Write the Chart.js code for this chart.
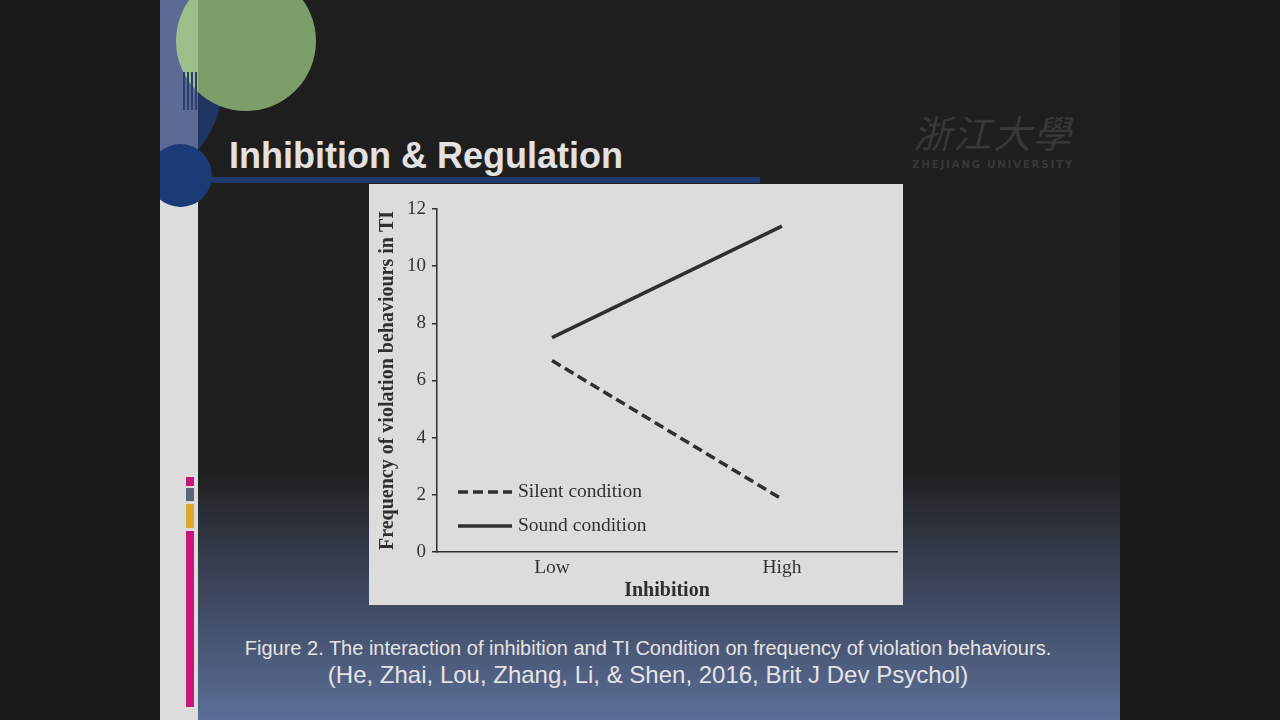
<!DOCTYPE html>
<html lang="en">
<head>
    <meta charset="UTF-8">
    <title>Inhibition &amp; Regulation</title>
    <script src="https://cdn.jsdelivr.net/npm/chart.js"></script>
    <style>
        html, body { margin: 0; padding: 0; width: 1280px; height: 720px; overflow: hidden; background: #191919; }
        .slide { position: absolute; left: 160px; top: 0; width: 960px; height: 720px; overflow: hidden;
                 background: linear-gradient(to bottom, #1e1e1e 0px, #1f1f1f 470px, #3a4357 580px, #5b6e97 720px); }
        .strip { position: absolute; left: 0; top: 0; width: 38px; height: 720px; background: #dcdcdc; overflow: hidden; }
        .circle { position: absolute; border-radius: 50%; }
        .title { position: absolute; left: 69px; top: 135px; font: bold 36px "Liberation Sans", Arial, sans-serif; color: #e2e2e2; }
        .rule { position: absolute; left: 40px; top: 177px; width: 560px; height: 6px; background: #1f3a6e; }
        .bar { position: absolute; left: 26px; width: 8px; }
        .logo { position: absolute; left: 748px; top: 108px; width: 170px; text-align: center; color: #383838; white-space: nowrap; }
        .logo .cn { font: italic 38px "Noto Sans CJK TC", sans-serif; letter-spacing: 2px; line-height: 48px; }
        .logo .en { font: bold 10.5px "DejaVu Sans", sans-serif; letter-spacing: 1.6px; margin-top: 2px; }
        .figure { position: absolute; left: 209px; top: 184px; width: 534px; height: 421px; background: #dcdcdc; }
        .caption { position: absolute; left: 0; width: 976px; text-align: center; color: #e4e4e4; font-family: "Liberation Sans", Arial, sans-serif; white-space: nowrap; }
    </style>
</head>
<body>
    <div class="slide">
        <!-- big navy arc behind the strip -->
        <div class="circle" style="left:-70px; top:-30px; width:135px; height:200px; background:#1e3461;"></div>
        <div class="strip">
            <div class="circle" style="left:-70px; top:-30px; width:135px; height:200px; background:#5b6b95;"></div>
            <div class="circle" style="left:16px; top:-29px; width:140px; height:140px; background:#9dbf8c;"></div>
            <div style="position:absolute; left:23px; top:72px; width:2px; height:38px; background:#2a3f70;"></div>
            <div style="position:absolute; left:27px; top:72px; width:2px; height:38px; background:#2a3f70;"></div>
            <div style="position:absolute; left:31px; top:72px; width:2px; height:38px; background:#2a3f70;"></div>
            <div style="position:absolute; left:35px; top:72px; width:2px; height:38px; background:#2a3f70;"></div>
            <div class="circle" style="left:-11px; top:144px; width:63px; height:63px; background:#1d3a78;"></div>
        </div>
        <div class="circle" style="left:16px; top:-29px; width:140px; height:140px; background:#7d9e68; clip-path: inset(0 0 0 22px);"></div>
        <div class="circle" style="left:-11px; top:144px; width:63px; height:63px; background:#1d3a78; clip-path: inset(0 0 0 49px);"></div>
        <div class="rule"></div>
        <div class="title">Inhibition &amp; Regulation</div>

        <div class="bar" style="top:477px; height:9px; background:#c8157a;"></div>
        <div class="bar" style="top:488px; height:13px; background:#5e6577;"></div>
        <div class="bar" style="top:504px; height:24px; background:#dcaa2a;"></div>
        <div class="bar" style="top:531px; height:176px; background:#c8157a;"></div>

        <div class="logo">
            <div class="cn">浙江大學</div>
            <div class="en">ZHEJIANG UNIVERSITY</div>
        </div>

        <div class="figure"><canvas id="chart" width="534" height="421"></canvas></div>

        <div class="caption" style="top:637px; font-size:20px;">Figure 2. The interaction of inhibition and TI Condition on frequency of violation behaviours.</div>
        <div class="caption" style="top:661px; font-size:24px;">(He, Zhai, Lou, Zhang, Li, &amp; Shen, 2016, Brit J Dev Psychol)</div>
    </div>

    <script>
        // values
        const categories = ['Low', 'High'];
        const silentValues = [6.7, 1.85];
        const soundValues = [7.5, 11.4];
        const yTicks = [0, 2, 4, 6, 8, 10, 12];
        const seriesNames = ['Silent condition', 'Sound condition'];

        const ink = '#2f2f2f';
        const serif = '"Liberation Serif", "Times New Roman", serif';

        // legend sits inside the plot, bottom-left
        const insideLegend = {
            id: 'insideLegend',
            afterDatasetsDraw(chart) {
                const {ctx, chartArea} = chart;
                const rows = [chartArea.bottom - 60, chartArea.bottom - 26];
                ctx.save();
                chart.data.datasets.forEach((ds, i) => {
                    const y = rows[i];
                    ctx.strokeStyle = ds.borderColor;
                    ctx.lineWidth = ds.borderWidth;
                    ctx.setLineDash(ds.borderDash || []);
                    ctx.beginPath();
                    ctx.moveTo(chartArea.left + 21, y);
                    ctx.lineTo(chartArea.left + 75, y);
                    ctx.stroke();
                    ctx.setLineDash([]);
                    ctx.fillStyle = ink;
                    ctx.font = '19.5px ' + serif;
                    ctx.textBaseline = 'middle';
                    ctx.fillText(ds.label, chartArea.left + 81, y);
                });
                ctx.restore();
            }
        };

        new Chart(document.getElementById('chart'), {
            type: 'line',
            data: {
                labels: categories,
                datasets: [{
                    label: seriesNames[0],
                    data: silentValues,
                    borderColor: ink,
                    borderWidth: 3.5,
                    borderDash: [10, 5],
                    pointRadius: 0,
                    fill: false
                }, {
                    label: seriesNames[1],
                    data: soundValues,
                    borderColor: ink,
                    borderWidth: 3.5,
                    pointRadius: 0,
                    fill: false
                }]
            },
            options: {
                responsive: false,
                animation: false,
                layout: { padding: { top: 25, right: 6, bottom: 0, left: 0 } },
                plugins: {
                    legend: { display: false },
                    tooltip: { enabled: false }
                },
                scales: {
                    x: {
                        offset: true,
                        grid: { display: false, drawTicks: false },
                        border: { display: true, color: ink, width: 1.5 },
                        ticks: { color: '#333', font: { family: serif, size: 19.5 }, padding: 4 },
                        title: { display: true, text: 'Inhibition', color: ink,
                                 font: { family: serif, size: 20, weight: 'bold' }, padding: { top: 0, bottom: 2 } },
                        afterFit(scale) { scale.height = 53; }
                    },
                    y: {
                        min: 0,
                        max: 12,
                        afterBuildTicks(scale) { scale.ticks = yTicks.map(v => ({ value: v })); },
                        grid: { drawOnChartArea: false, color: ink, tickLength: 5, lineWidth: 1.5 },
                        border: { display: true, color: ink, width: 1.5 },
                        ticks: { color: '#333', font: { family: serif, size: 19 }, padding: 6 },
                        title: { display: true, text: 'Frequency of violation behaviours in TI', color: ink,
                                 font: { family: serif, size: 20, weight: 'bold' }, padding: { top: 7, bottom: 0 } },
                        afterFit(scale) { scale.width = 68; }
                    }
                }
            },
            plugins: [insideLegend]
        });
    </script>
</body>
</html>
